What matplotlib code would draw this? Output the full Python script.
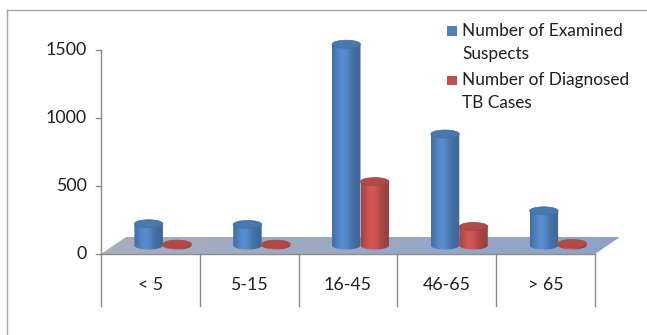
import numpy as np
import matplotlib
matplotlib.use("Agg")
import matplotlib.pyplot as plt
from matplotlib.patches import Polygon, Ellipse, Rectangle, PathPatch
from matplotlib.path import Path
from matplotlib.lines import Line2D
from matplotlib.colors import to_rgb

# ---- data ----
categories = ["< 5", "5-15", "16-45", "46-65", "> 65"]
examined = [160, 155, 1480, 820, 255]
diagnosed = [10, 10, 470, 140, 15]
series_names = ["Number of Examined\nSuspects", "Number of Diagnosed\nTB Cases"]
series_colors = ["#4F81BD", "#C0504D"]
y_ticks = [0, 500, 1000, 1500]

plt.rcParams["font.family"] = ["Lato", "DejaVu Sans"]
FS = 12.8
LEG_FS = 12.4
TXT = "#1f1f1f"

W, H = 647, 335
fig = plt.figure(figsize=(W / 100, H / 100), dpi=100)
ax = fig.add_axes([0, 0, 1, 1])
ax.set_axis_off()

# scale setup: one category per ~99 px, value axis 0..1500 over ~204 px
px_per_cat = 98.8
axis_px = 101.0
px_per_unit = 0.136
zero_px = 254.0
ax.set_xlim(-axis_px / px_per_cat - 0.5, (W - axis_px) / px_per_cat - 0.5)
ax.set_ylim(-(H - zero_px) / px_per_unit, zero_px / px_per_unit)

n = len(categories)
depth_x = 25 / px_per_cat        # 3-D depth offset along x
depth_y = 17 / px_per_unit       # 3-D depth offset along value axis
bar_w = 28.5 / px_per_cat
ell_b = 4.0 / px_per_unit        # half-height of cylinder ellipses

# ---- floor ----
floor_pts = [(-0.5, 0), (n - 0.5, 0), (n - 0.5 + depth_x, depth_y), (-0.5 + depth_x, depth_y)]
floor = Polygon(floor_pts, closed=True, facecolor="none", edgecolor="none")
ax.add_patch(floor)
c0 = np.array(to_rgb("#A8AEBD"))
c1 = np.array(to_rgb("#8CA3C8"))
t = np.linspace(0, 1, 256)
grad = (c0[None, :] * (1 - t[:, None]) + c1[None, :] * t[:, None])[None, :, :]
im = ax.imshow(grad, extent=(-0.5, n - 0.5 + depth_x, 0, depth_y), aspect="auto",
               interpolation="bilinear", zorder=1)
im.set_clip_path(floor)

# ---- axes lines ----
ax.plot([-0.5, n - 0.5], [0, 0], color="#8C8C8C", lw=1.0, zorder=2)
ax.plot([-0.5, -0.5], [0, y_ticks[-1]], color="#8C8C8C", lw=1.0, zorder=2)
tick_len = 5 / px_per_cat
for v in y_ticks:
    ax.plot([-0.5 - tick_len, -0.5], [v, v], color="#8C8C8C", lw=1.0, zorder=2)
    ax.text(-0.5 - 14 / px_per_cat, v, str(v), ha="right", va="center",
            fontsize=FS, color=TXT)
div_bottom = -(306 - zero_px) / px_per_unit
for k in range(n + 1):
    ax.plot([-0.5 + k, -0.5 + k], [0, div_bottom], color="#8C8C8C", lw=1.0, zorder=2)
label_y = -(285 - zero_px) / px_per_unit
for i, c in enumerate(categories):
    ax.text(i, label_y, c, ha="center", va="center", fontsize=FS, color=TXT)


def cylinder(xc, value, color, z):
    base = depth_y / 2
    top = value + depth_y / 2
    xl, xr = xc - bar_w / 2, xc + bar_w / 2
    a = bar_w / 2
    th = np.linspace(np.pi, 2 * np.pi, 60)
    arc = np.column_stack([xc + a * np.cos(th), base + ell_b * np.sin(th)])
    verts = np.vstack([[xl, top], arc, [xr, top], [xl, top]])
    body = PathPatch(Path(verts), facecolor="none", edgecolor="none", zorder=z)
    ax.add_patch(body)
    rgb = np.array(to_rgb(color))
    s = np.linspace(0, 1, 128)
    f = 0.80 + 0.30 * np.exp(-((s - 0.38) / 0.30) ** 2)
    cols = np.clip(rgb[None, :] * f[:, None], 0, 1)[None, :, :]
    img = ax.imshow(cols, extent=(xl, xr, base - ell_b, top), aspect="auto",
                    interpolation="bilinear", zorder=z)
    img.set_clip_path(body)
    topc = np.clip(rgb * 0.92, 0, 1)
    ax.add_patch(Ellipse((xc, top), bar_w, 2 * ell_b, facecolor=topc,
                         edgecolor=np.clip(rgb * 0.85, 0, 1), lw=0.5, zorder=z + 0.1))


for i in range(n):
    center = i + depth_x / 2
    cylinder(center + bar_w / 2, diagnosed[i], series_colors[1], 3)
    cylinder(center - bar_w / 2, examined[i], series_colors[0], 4)

# ---- legend ----
leg_rows = [(31, 0), (80, 1)]
for py, k in leg_rows:
    fig.patches.append(Rectangle((447 / W, 1 - (py + 4.5) / H), 10 / W, 9 / H,
                                 transform=fig.transFigure, facecolor=series_colors[k],
                                 edgecolor="none"))
    for j, line in enumerate(series_names[k].split("\n")):
        fig.text(462 / W, 1 - (py + j * 22.5) / H, line, ha="left", va="center",
                 fontsize=LEG_FS, color=TXT)

# ---- outer frame ----
fig.lines.append(Line2D([7 / W, 7 / W], [0, 1 - 10 / H], transform=fig.transFigure,
                        color="#A6A6A6", lw=1.0))
fig.lines.append(Line2D([7 / W, 1], [1 - 10 / H, 1 - 10 / H], transform=fig.transFigure,
                        color="#A6A6A6", lw=1.0))

fig.savefig("out.png", dpi=100)
